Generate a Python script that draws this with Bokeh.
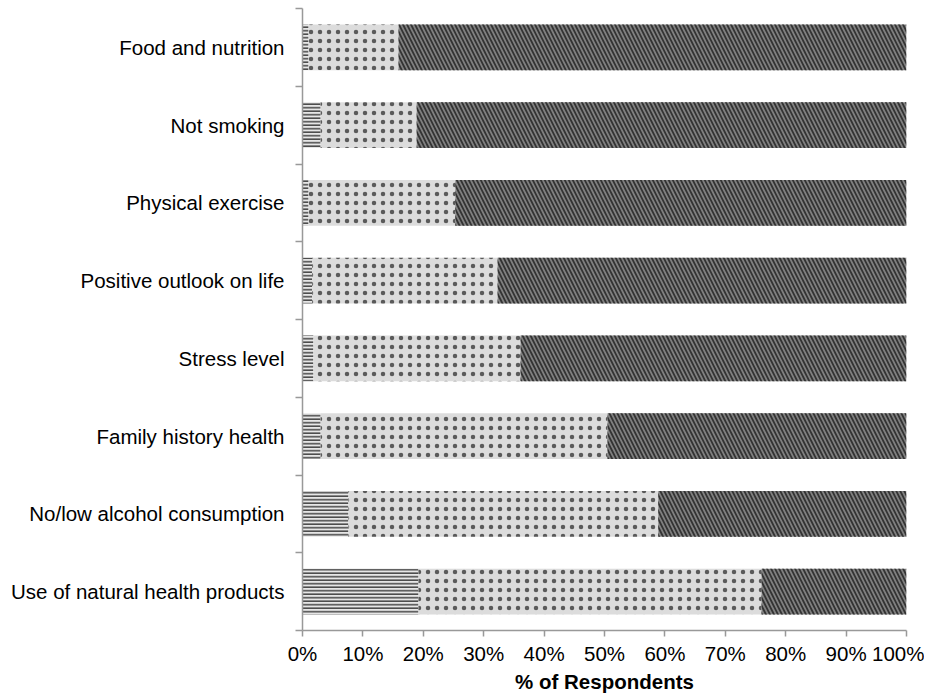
from bokeh.plotting import figure
from bokeh.models import Range1d, FixedTicker, ColumnDataSource
from bokeh.embed import file_html
from bokeh.resources import INLINE

categories = [
    "Food and nutrition",
    "Not smoking",
    "Physical exercise",
    "Positive outlook on life",
    "Stress level",
    "Family history health",
    "No/low alcohol consumption",
    "Use of natural health products",
]
not_important = [1.0, 3.0, 1.0, 1.6, 1.8, 3.0, 7.6, 19.2]
somewhat_important = [14.9, 15.9, 24.3, 30.7, 34.3, 47.5, 51.3, 56.8]
very_important = [84.1, 81.1, 74.7, 67.7, 63.9, 49.5, 41.1, 24.0]
x_ticks = [0, 10, 20, 30, 40, 50, 60, 70, 80, 90, 100]
x_tick_labels = ["0%", "10%", "20%", "30%", "40%", "50%", "60%", "70%", "80%", "90%", "100%"]

n = len(categories)
ypos = [n - i - 0.5 for i in range(n)]
src = ColumnDataSource(dict(y=ypos, a=not_important, b=somewhat_important, c=very_important))

FONT = "Liberation Sans"
FS = "20.5px"

p = figure(frame_width=604, frame_height=622, x_range=Range1d(0, 100), y_range=Range1d(0, n),
           output_backend="svg", toolbar_location=None,
           min_border_left=302, min_border_right=18, min_border_top=8, min_border_bottom=0)

p.hbar_stack(["a", "b", "c"], y="y", height=0.59, source=src,
             fill_color=["#e6e6e6", "#dcdcdc", "#808080"],
             line_color=None,
             hatch_pattern=["horizontal_line", "dot", "left_diagonal_line"],
             hatch_color=["#4a4a4a", "#5a5a5a", "#333333"],
             hatch_scale=[3.5, 9.0, 8.0],
             hatch_weight=[1.6, 1.7, 1.8],
             name=["Not important", "Somewhat important", "Very important"])

p.xgrid.visible = False
p.ygrid.visible = False
p.outline_line_color = None

xa = p.xaxis[0]
xa.ticker = FixedTicker(ticks=x_ticks, minor_ticks=[])
xa.major_label_overrides = {t: l for t, l in zip(x_ticks, x_tick_labels)}
xa.axis_label = "% of Respondents"
xa.axis_label_text_font = FONT
xa.axis_label_text_font_style = "bold"
xa.axis_label_text_font_size = FS
xa.axis_label_text_color = "#000000"
xa.axis_label_standoff = 2
xa.major_label_text_font = FONT
xa.major_label_text_font_size = FS
xa.major_label_text_color = "#000000"
xa.major_label_standoff = 5
xa.major_tick_out = 6
xa.major_tick_in = 0
xa.minor_tick_out = 0
xa.minor_tick_in = 0
xa.axis_line_color = "#999999"
xa.axis_line_width = 1.5
xa.major_tick_line_color = "#999999"
xa.major_tick_line_width = 1.5

ya = p.yaxis[0]
ya.ticker = FixedTicker(ticks=ypos, minor_ticks=list(range(n + 1)))
ya.major_label_overrides = {y: c for y, c in zip(ypos, categories)}
ya.major_label_text_font = FONT
ya.major_label_text_font_size = FS
ya.major_label_text_color = "#000000"
ya.major_label_standoff = 11
ya.major_tick_out = 0
ya.major_tick_in = 0
ya.minor_tick_out = 7
ya.minor_tick_in = 0
ya.minor_tick_line_color = "#999999"
ya.minor_tick_line_width = 1.5
ya.axis_line_color = "#999999"
ya.axis_line_width = 1.5

open("out.html", "w").write(file_html(p, INLINE))
